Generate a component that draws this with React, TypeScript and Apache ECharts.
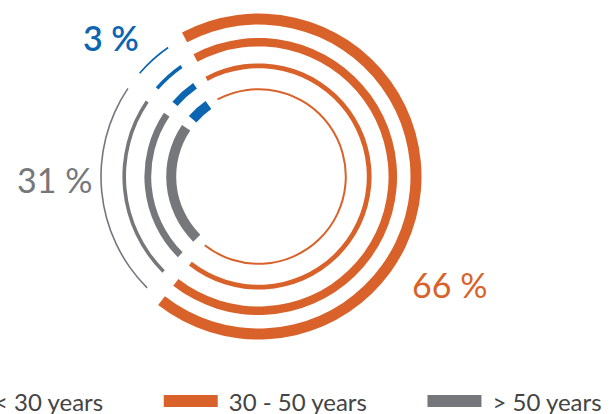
import React, { useEffect, useRef } from "react";
import * as echarts from "echarts";

// Data
const categories = ["< 30 years", "30 - 50 years", "> 50 years"];
const shares = [3, 66, 31]; // printed percentages
const arcDegrees = [21, 253, 86]; // drawn sweep of each segment (incl. gap), degrees
const colors = ["#0b65b0", "#d9622a", "#76777b"];

// Ring geometry (styles)
const CENTER = [258.5, 176.5];
const ringRadii = [157.5, 134.3, 110.7, 87.3];
const orangeWidths = [11, 8.5, 4.8, 2];
const otherWidths = [1.6, 3.6, 6.8, 10];
const order = [1, 2, 0]; // clockwise from start: orange, gray, blue
const FONT = "Lato, 'Noto Sans', sans-serif";

export default function App() {
  const ref = useRef<HTMLDivElement>(null);
  useEffect(() => {
    if (!ref.current) return;
    const chart = echarts.init(ref.current, undefined, { renderer: "svg" });
    const series: any[] = [];
    ringRadii.forEach((r, k) => {
      const groups = [
        { visible: [1], w: orangeWidths[k] },
        { visible: [0, 2], w: otherWidths[k] },
      ];
      groups.forEach((g, gi) => {
        series.push({
          type: "pie",
          name: `ring${k}-${gi}`,
          center: CENTER,
          radius: [r - g.w / 2, r + g.w / 2],
          startAngle: 121.5,
          padAngle: 7,
          silent: true,
          label: { show: false },
          labelLine: { show: false },
          emphasis: { disabled: true },
          data: order.map((i) => ({
            name: categories[i],
            value: arcDegrees[i],
            itemStyle: {
              color: g.visible.includes(i) ? colors[i] : "rgba(0,0,0,0)",
              borderWidth: 0,
            },
          })),
        });
      });
    });

    const labelPos = [
      { x: 83, y: 37 },
      { x: 412, y: 284 },
      { x: 17, y: 179 },
    ];

    chart.setOption({
      animation: false,
      legend: {
        left: -76,
        top: 384,
        icon: "rect",
        itemWidth: 54,
        itemHeight: 12,
        itemGap: 60,
        selectedMode: false,
        textStyle: {
          fontFamily: FONT,
          fontSize: 24,
          color: "#444",
          padding: [0, 0, 8, 6],
        },
        data: categories.map((c, i) => ({ name: c, itemStyle: { color: colors[i] } })),
      },
      graphic: shares.map((s, i) => ({
        type: "text",
        left: labelPos[i].x,
        top: labelPos[i].y - 17,
        style: {
          text: `${s} %`,
          fill: colors[i],
          font: `${i === 0 ? 600 : 400} 34px ${FONT}`,
        },
      })),
      series,
    });
    return () => chart.dispose();
  }, []);
  return (
    <div
      ref={ref}
      style={{ position: "fixed", left: 0, top: 0, width: 611, height: 414, background: "#fff" }}
    />
  );
}
